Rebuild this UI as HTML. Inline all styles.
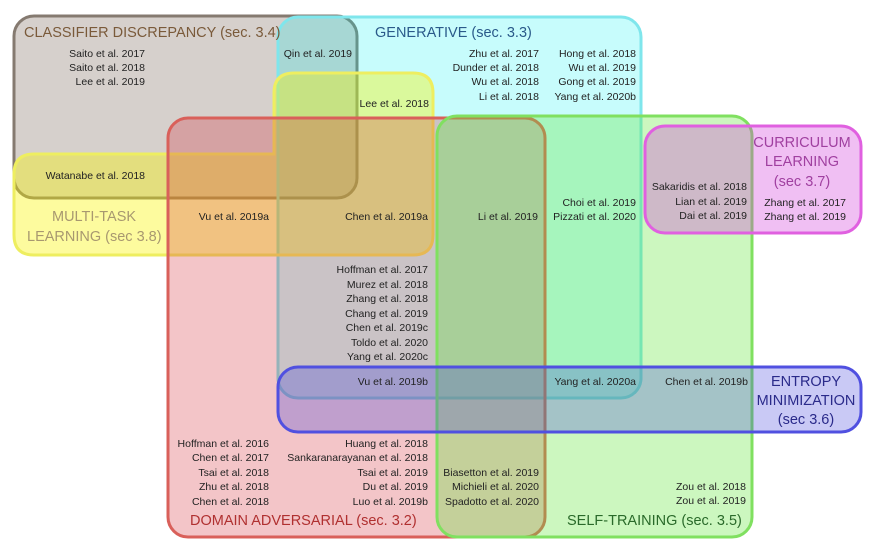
<!DOCTYPE html>
<html><head><style>
html,body{margin:0;padding:0;background:#fff;}
svg{display:block;font-family:"Liberation Sans",sans-serif;}
.r{font-size:10.5px;fill:#222;text-anchor:end;}
.t{font-size:14.5px;}
</style></head><body>
<svg width="869" height="545" viewBox="0 0 869 545">
<g stroke-width="3">
<rect x="14" y="16" width="343" height="182" rx="20" fill="rgb(120,100,85)" fill-opacity="0.3" stroke="#857a70"/>
<rect x="278" y="17" width="363" height="381" rx="20" fill="rgb(0,240,240)" fill-opacity="0.22" stroke="#7fe6ec"/>
<path d="M294,73 H413 Q433,73 433,93 V235 Q433,255 413,255 H34 Q14,255 14,235 V174 Q14,154 34,154 H274 V93 Q274,73 294,73 Z" fill="rgb(250,245,0)" fill-opacity="0.38" stroke="#eeee60"/>
<rect x="168" y="118" width="377" height="419" rx="20" fill="rgb(210,40,50)" fill-opacity="0.27" stroke="#d9605a"/>
<rect x="437" y="116" width="315" height="421" rx="20" fill="rgb(100,230,60)" fill-opacity="0.33" stroke="#80e060"/>
<rect x="645" y="126" width="216" height="107" rx="20" fill="rgb(210,60,220)" fill-opacity="0.33" stroke="#e060e0"/>
<rect x="278" y="367" width="583" height="65" rx="20" fill="rgb(60,60,220)" fill-opacity="0.28" stroke="#5050e0"/>
</g>
<text x="24" y="37" class="t" fill="#7a5a3a">CLASSIFIER DISCREPANCY (sec. 3.4)</text>
<text x="375" y="37" class="t" fill="#2a5a8a">GENERATIVE (sec. 3.3)</text>
<text x="52" y="221" class="t" fill="#a89870">MULTI-TASK</text>
<text x="27" y="241" class="t" fill="#a89870">LEARNING (sec 3.8)</text>
<text x="802" y="147" class="t" fill="#a040a0" text-anchor="middle">CURRICULUM</text>
<text x="802" y="166" class="t" fill="#a040a0" text-anchor="middle">LEARNING</text>
<text x="802" y="186" class="t" fill="#a040a0" text-anchor="middle">(sec 3.7)</text>
<text x="806" y="386" class="t" fill="#2a2a8a" text-anchor="middle">ENTROPY</text>
<text x="806" y="405" class="t" fill="#2a2a8a" text-anchor="middle">MINIMIZATION</text>
<text x="806" y="424" class="t" fill="#2a2a8a" text-anchor="middle">(sec 3.6)</text>
<text x="190" y="525" class="t" fill="#b03030">DOMAIN ADVERSARIAL (sec. 3.2)</text>
<text x="567" y="525" class="t" fill="#2a6a2a">SELF-TRAINING (sec. 3.5)</text>

<text x="145" y="57" class="r">Saito et al. 2017</text>
<text x="145" y="71" class="r">Saito et al. 2018</text>
<text x="145" y="85" class="r">Lee et al. 2019</text>
<text x="352" y="57" class="r">Qin et al. 2019</text>
<text x="539" y="57" class="r">Zhu et al. 2017</text>
<text x="539" y="71" class="r">Dunder et al. 2018</text>
<text x="539" y="85" class="r">Wu et al. 2018</text>
<text x="539" y="100" class="r">Li et al. 2018</text>
<text x="636" y="57" class="r">Hong et al. 2018</text>
<text x="636" y="71" class="r">Wu et al. 2019</text>
<text x="636" y="85" class="r">Gong et al. 2019</text>
<text x="636" y="100" class="r">Yang et al. 2020b</text>
<text x="429" y="107" class="r">Lee et al. 2018</text>
<text x="145" y="179" class="r">Watanabe et al. 2018</text>
<text x="269" y="220" class="r">Vu et al. 2019a</text>
<text x="428" y="220" class="r">Chen et al.  2019a</text>
<text x="538" y="220" class="r">Li et al. 2019</text>
<text x="636" y="206" class="r">Choi et al. 2019</text>
<text x="636" y="220" class="r">Pizzati et al. 2020</text>
<text x="747" y="190" class="r">Sakaridis et al. 2018</text>
<text x="747" y="205" class="r">Lian et al. 2019</text>
<text x="747" y="219" class="r">Dai et al. 2019</text>
<text x="846" y="206" class="r">Zhang et al. 2017</text>
<text x="846" y="220" class="r">Zhang et al. 2019</text>
<text x="428" y="273" class="r">Hoffman et al. 2017</text>
<text x="428" y="288" class="r">Murez et al. 2018</text>
<text x="428" y="302" class="r">Zhang et al. 2018</text>
<text x="428" y="317" class="r">Chang et al. 2019</text>
<text x="428" y="331" class="r">Chen et al. 2019c</text>
<text x="428" y="346" class="r">Toldo et al. 2020</text>
<text x="428" y="360" class="r">Yang et al. 2020c</text>
<text x="428" y="385" class="r">Vu et al. 2019b</text>
<text x="636" y="385" class="r">Yang et al. 2020a</text>
<text x="748" y="385" class="r">Chen et al. 2019b</text>
<text x="269" y="447" class="r">Hoffman et al. 2016</text>
<text x="269" y="461" class="r">Chen et al. 2017</text>
<text x="269" y="476" class="r">Tsai et al. 2018</text>
<text x="269" y="490" class="r">Zhu et al. 2018</text>
<text x="269" y="505" class="r">Chen et al. 2018</text>
<text x="428" y="447" class="r">Huang et al. 2018</text>
<text x="428" y="461" class="r">Sankaranarayanan et al. 2018</text>
<text x="428" y="476" class="r">Tsai et al. 2019</text>
<text x="428" y="490" class="r">Du et al. 2019</text>
<text x="428" y="505" class="r">Luo et al. 2019b</text>
<text x="539" y="476" class="r">Biasetton et al. 2019</text>
<text x="539" y="490" class="r">Michieli et al. 2020</text>
<text x="539" y="505" class="r">Spadotto et al. 2020</text>
<text x="746" y="490" class="r">Zou et al. 2018</text>
<text x="746" y="504" class="r">Zou et al. 2019</text>
</svg>
</body></html>
